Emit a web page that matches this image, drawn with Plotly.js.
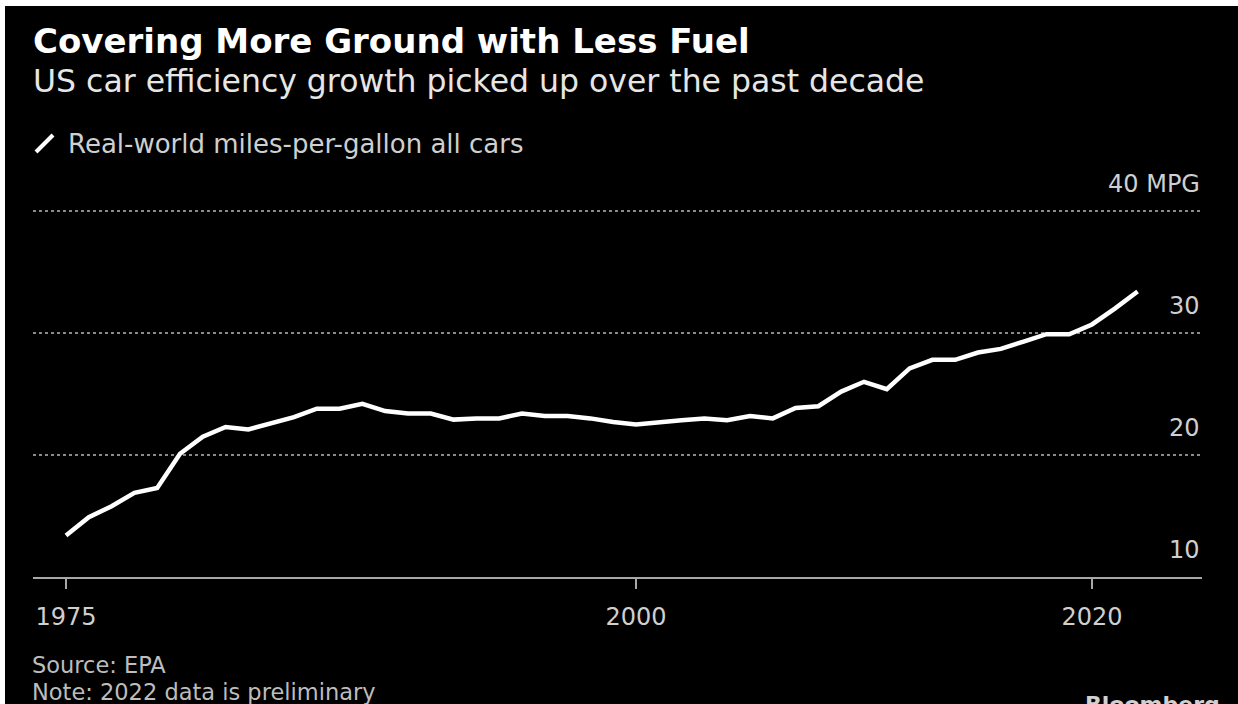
<!DOCTYPE html>
<html>
<head>
<meta charset="utf-8">
<script src="https://cdn.plot.ly/plotly-3.0.1.min.js"></script>
<style>
  html, body { margin: 0; padding: 0; background: #ffffff; width: 1238px; height: 704px; overflow: hidden; }
  #chart { position: absolute; left: 5px; top: 6px; width: 1233px; height: 698px; background: #000; }
</style>
</head>
<body>
<div id="chart"></div>
<script>
// ---- data ----
const years = [1975,1976,1977,1978,1979,1980,1981,1982,1983,1984,1985,1986,1987,1988,1989,1990,1991,1992,1993,1994,1995,1996,1997,1998,1999,2000,2001,2002,2003,2004,2005,2006,2007,2008,2009,2010,2011,2012,2013,2014,2015,2016,2017,2018,2019,2020,2021,2022];
const mpg = [13.4,14.9,15.8,16.9,17.3,20.1,21.5,22.3,22.1,22.6,23.1,23.8,23.8,24.2,23.6,23.4,23.4,22.9,23.0,23.0,23.4,23.2,23.2,23.0,22.7,22.5,22.7,22.85,23.0,22.85,23.2,23.0,23.85,24.0,25.2,26.0,25.4,27.1,27.8,27.8,28.4,28.7,29.3,29.9,29.9,30.7,32.0,33.4];
const seriesName = "Real-world miles-per-gallon all cars";
const xTickVals = [1975, 2000, 2020];
const xTickText = ["1975", "2000", "2020"];
const yTickVals = [10, 20, 30, 40];
const yTickText = ["10", "20", "30", "40 MPG"];
const titleText = "Covering More Ground with Less Fuel";
const subtitleText = "US car efficiency growth picked up over the past decade";
const sourceText = "Source: EPA";
const noteText = "Note: 2022 data is preliminary";
const brandText = "Bloomberg";

// ---- geometry helpers (page pixels -> paper coords) ----
const PL = 33, PR = 1202, PT = 207, PB = 577;
const px = x => (x - PL) / (PR - PL);
const py = y => (PB - y) / (PB - PT);

const FONT = "DejaVu Sans, Verdana, sans-serif";

const annotations = [];
annotations.push({xref:'paper', yref:'paper', x:px(31), y:py(41), xanchor:'left', yanchor:'middle', showarrow:false,
  text:'<b>'+titleText+'</b>', font:{family:FONT, size:34, color:'#ffffff'}});
annotations.push({xref:'paper', yref:'paper', x:px(31), y:py(81), xanchor:'left', yanchor:'middle', showarrow:false,
  text:subtitleText, font:{family:FONT, size:31.5, color:'#e6e6e6'}});
annotations.push({xref:'paper', yref:'paper', x:px(66), y:py(144), xanchor:'left', yanchor:'middle', showarrow:false,
  text:seriesName, font:{family:FONT, size:26, color:'#cfcfcf'}});
yTickVals.forEach((v, i) => {
  annotations.push({xref:'paper', yref:'y', x:1, y:v, xanchor:'right', yanchor:'bottom', yshift:11, showarrow:false,
    text:yTickText[i], font:{family:FONT, size:24, color:'#cfcfcf'}});
});
annotations.push({xref:'paper', yref:'paper', x:px(31), y:py(664.5), xanchor:'left', yanchor:'middle', showarrow:false,
  borderpad:0, text:sourceText, font:{family:FONT, size:22.5, color:'#bdbdbd'}});
annotations.push({xref:'paper', yref:'paper', x:px(31), y:py(692), xanchor:'left', yanchor:'middle', showarrow:false,
  borderpad:0, text:noteText, font:{family:FONT, size:22.5, color:'#bdbdbd'}});
annotations.push({xref:'paper', yref:'paper', x:px(1222), y:py(704), xanchor:'right', yanchor:'middle', showarrow:false,
  text:'<b>'+brandText+'</b>', font:{family:FONT, size:22, color:'#d0d0d0'}});

const shapes = [
  {type:'line', xref:'paper', yref:'paper', x0:px(36), y0:py(152), x1:px(53), y1:py(135),
   line:{color:'#ffffff', width:4}}
];

const trace = {
  x: years, y: mpg, type:'scatter', mode:'lines', name: seriesName,
  line:{color:'#ffffff', width:4.5, shape:'linear'},
  hoverinfo:'x+y', showlegend:false
};

const layout = {
  width:1233, height:698,
  paper_bgcolor:'#000000', plot_bgcolor:'#000000',
  margin:{l:28, r:36, t:201, b:127, pad:0},
  showlegend:false,
  xaxis:{
    range:[1975 - 33/22.8, 1975 + 1136/22.8],
    tickvals:xTickVals, ticktext:xTickText,
    ticks:'outside', ticklen:10, tickwidth:2, tickcolor:'#a8a8a8',
    ticklabelstandoff:7,
    showline:true, linecolor:'#a8a8a8', linewidth:2,
    showgrid:false, zeroline:false,
    tickfont:{family:FONT, size:24, color:'#cfcfcf'},
    fixedrange:true
  },
  yaxis:{
    range:[10, 40.328],
    tickvals:yTickVals, showticklabels:false,
    showgrid:true, gridcolor:'#8a8a8a', gridwidth:1.5, griddash:'dot',
    zeroline:false, showline:false, ticks:'',
    fixedrange:true
  },
  annotations:annotations,
  shapes:shapes,
  font:{family:FONT, color:'#cfcfcf'}
};

Plotly.newPlot('chart', [trace], layout, {displayModeBar:false, staticPlot:true});
</script>
</body>
</html>
